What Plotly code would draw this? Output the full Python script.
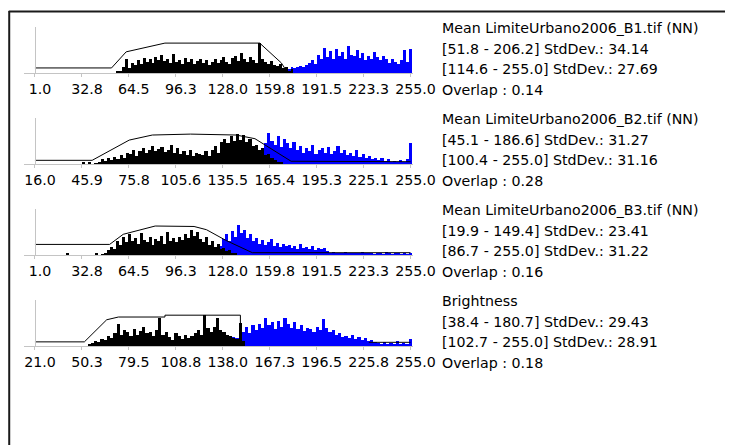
import plotly.graph_objects as go

# ---------------- data ----------------
titles = ["Mean LimiteUrbano2006_B1.tif (NN)", "Mean LimiteUrbano2006_B2.tif (NN)",
          "Mean LimiteUrbano2006_B3.tif (NN)", "Brightness"]
range1_text = ["[51.8 - 206.2] StdDev.: 34.14", "[45.1 - 186.6] StdDev.: 31.27",
               "[19.9 - 149.4] StdDev.: 23.41", "[38.4 - 180.7] StdDev.: 29.43"]
range2_text = ["[114.6 - 255.0] StdDev.: 27.69", "[100.4 - 255.0] StdDev.: 31.16",
               "[86.7 - 255.0] StdDev.: 31.22", "[102.7 - 255.0] StdDev.: 28.91"]
overlap_text = ["Overlap : 0.14", "Overlap : 0.28", "Overlap : 0.16", "Overlap : 0.18"]

ticks1 = ["1.0", "32.8", "64.5", "96.3", "128.0", "159.8", "191.5", "223.3", "255.0"]
ticks2 = ["16.0", "45.9", "75.8", "105.6", "135.5", "165.4", "195.3", "225.1", "255.0"]
ticks3 = ["1.0", "32.8", "64.5", "96.3", "128.0", "159.8", "191.5", "223.3", "255.0"]
ticks4 = ["21.0", "50.3", "79.5", "108.8", "138.0", "167.3", "196.5", "225.8", "255.0"]

bin_width = 2

# panel 1 histograms (relative heights)
black1_start = 56
black1 = [0.03,0.05,0.12,0.30,0.10,0.22,0.18,0.28,0.20,0.32,0.25,0.30,0.22,0.35,0.28,0.40,
          0.26,0.30,0.22,0.42,0.25,0.28,0.20,0.32,0.24,0.30,0.20,0.26,0.30,0.22,0.28,0.18,
          0.25,0.30,0.22,0.28,0.35,0.25,0.20,0.32,0.38,0.26,0.44,0.30,0.25,0.35,0.28,0.22,
          0.65,0.30,0.25,0.20,0.26,0.18,0.15,0.20,0.10,0.12,0.05,0.08]
blue1_start = 110
blue1 = [0.02,0.03,0.02,0.04,0.03,0.05,0.03,0.04,0.05,0.03,0.06,0.04,0.05,0.04,0.06,0.05,
         0.04,0.06,0.05,0.07,0.06,0.05,0.08,0.06,0.07,0.09,0.07,0.08,
         0.10,0.08,0.12,0.09,0.14,0.10,0.12,0.16,0.12,0.18,0.22,
         0.28,0.20,0.40,0.30,0.55,0.35,0.48,0.30,0.52,0.38,
         0.45,0.30,0.58,0.40,0.36,0.50,0.32,0.44,0.28,0.38,0.30,0.46,0.34,0.28,0.36,0.30,
         0.22,0.30,0.24,0.20,0.28,0.50,0.25,0.52]
curve1_x = [1, 52.8, 62.7, 88.9, 153, 167.6, 170]
curve1_y = [0.11, 0.11, 0.46, 0.65, 0.65, 0.22, 0.10]

# panel 2
black2_start = 46
black2 = [0.03,0.0,0.03,0.0,0.02,
          0.05,0.10,0.06,0.12,0.08,0.15,0.10,0.20,0.12,0.25,
          0.22,0.30,0.18,0.28,0.35,0.25,0.30,0.40,0.28,0.32,0.38,0.26,
          0.30,0.42,0.25,0.35,0.22,0.28,0.20,0.30,0.18,0.25,
          0.22,0.20,0.28,0.18,0.30,0.40,0.25,0.48,
          0.55,0.45,0.60,0.50,0.65,0.52,0.62,0.48,0.55,0.40,
          0.42,0.30,0.35,0.20,0.22,0.12,0.08,0.05,0.03]
blue2_start = 150
blue2 = [0.05,0.10,0.08,0.15,0.20,0.30,0.45,0.68,
         0.50,0.42,0.60,0.38,0.55,0.45,0.35,0.48,
         0.30,0.40,0.25,0.35,0.28,0.42,0.22,0.30,0.35,0.25,0.38,0.22,0.28,0.40,0.24,0.30,0.20,
         0.25,0.18,0.30,0.15,0.22,0.12,0.18,0.10,0.14,0.08,0.12,0.06,0.10,
         0.05,0.06,0.04,0.08,0.05,0.10,0.45]
curve2_x = [16, 52.4, 76, 90.7, 115, 144, 156, 179, 255]
curve2_y = [0.08, 0.08, 0.52, 0.63, 0.65, 0.63, 0.55, 0.06, 0.05]

# panel 3
black3_start = 20
black3 = [0,0.04,0,0,0,0,0,0,0,0,0,0.03,0,
          0.02,0.05,0.10,0.18,0.12,0.30,0.22,
          0.40,0.28,0.45,0.30,0.38,0.25,0.48,0.32,0.28,0.40,0.22,
          0.35,0.30,0.42,0.25,0.50,0.30,0.36,0.28,0.40,0.32,
          0.45,0.38,0.55,0.42,0.50,0.35,0.28,0.40,0.22,0.30,
          0.18,0.25,0.12,0.15,0.08,0.10,0.05,0.03]
blue3_start = 110
blue3 = [0.02,0.03,0.04,0.05,0.06,0.08,0.10,0.14,0.20,
         0.35,0.45,0.30,0.52,0.40,0.65,0.48,0.55,0.38,0.45,
         0.30,0.36,0.25,0.32,0.22,0.28,0.35,0.20,0.26,0.18,0.24,0.20,
         0.22,0.16,0.20,0.14,0.25,0.15,0.18,0.12,0.20,0.10,0.16,0.12,0.15,
         0.08,0.05,0.06,0.04,0.05,0.03,0.06,0.04,0.03,0.05,0.03,0.04,0.06,0.03,0.04,
         0.03,0.02,0.04,0.03,0.02,0.06,0.03,0.02,0.03,0.04,0.02,0.03,0.02,0.04]
curve3_x = [1, 51.5, 60.7, 82.3, 108.6, 117, 130, 148, 255]
curve3_y = [0.23, 0.23, 0.45, 0.63, 0.62, 0.55, 0.32, 0.05, 0.05]

# panel 4
black4_start = 54
black4 = [0.03,0.06,0.10,0.08,0.15,0.12,
          0.22,0.18,0.28,0.48,0.25,0.35,0.30,0.22,
          0.38,0.25,0.32,0.42,0.28,0.30,0.22,0.35,0.60,
          0.25,0.30,0.20,0.12,0.28,0.22,0.15,0.25,0.18,0.22,
          0.28,0.35,0.25,0.67,0.40,0.30,0.42,0.60,0.35,
          0.30,0.25,0.22,0.18,0.15,0.50,0.10]
blue4_start = 112
blue4 = [0.02,0.03,0.02,0.04,0.05,0.04,0.06,0.05,0.08,0.06,0.10,0.08,0.12,0.10,0.15,0.12,0.20,0.18,0.25,
         0.30,0.42,0.28,0.45,0.35,0.48,0.40,0.60,0.45,0.52,0.38,
         0.55,0.42,0.60,0.48,0.40,0.52,0.36,0.45,0.32,0.40,
         0.38,0.30,0.42,0.35,0.58,0.40,0.30,0.35,0.25,0.28,0.20,
         0.22,0.18,0.25,0.15,0.20,0.12,0.18,0.10,0.14,0.08,
         0.06,0.05,0.08,0.04,0.07,0.05,0.10,0.04,0.06,0.05,0.15]
curve4_x = [21, 51.8, 65.7, 73, 102, 102, 149, 149, None, 229, 255]
curve4_y = [0.09, 0.09, 0.57, 0.63, 0.63, 0.67, 0.67, 0.35, None, 0.08, 0.08]

# ---------------- layout geometry ----------------
W, H = 747, 445
AX_LEFT, AX_RIGHT = 25, 426
FIRST_TICK, LAST_TICK = 36, 423
BASE0, STEP, AXH = 73, 91, 46
TEXT_X = 453
TEXT_Y0, LINE_STEP = 28, 20.7
FONT = "DejaVu Sans"
FS = 14.2
GRAY = "#c4c4c4"

panels = [
    (ticks1, black1_start, black1, blue1_start, blue1, curve1_x, curve1_y),
    (ticks2, black2_start, black2, blue2_start, blue2, curve2_x, curve2_y),
    (ticks3, black3_start, black3, blue3_start, blue3, curve3_x, curve3_y),
    (ticks4, black4_start, black4, blue4_start, blue4, curve4_x, curve4_y),
]

fig = go.Figure()
annotations = []
layout_axes = {}

for k, (tk, bst, bvals, ust, uvals, cx, cy) in enumerate(panels):
    xa = "x" if k == 0 else f"x{k+1}"
    ya = "y" if k == 0 else f"y{k+1}"
    tvals = [float(t) for t in tk]
    a, b = tvals[0], tvals[-1]
    upp = (b - a) / (LAST_TICK - FIRST_TICK)
    rng = [a - (FIRST_TICK - AX_LEFT) * upp, b + (AX_RIGHT - LAST_TICK) * upp]

    ux = [ust + bin_width * i + bin_width / 2 for i in range(len(uvals))]
    bx = [bst + bin_width * i + bin_width / 2 for i in range(len(bvals))]
    fig.add_trace(go.Bar(x=ux, y=uvals, width=bin_width, marker=dict(color="#0000ff", line=dict(width=0)),
                         xaxis=xa, yaxis=ya, showlegend=False, hoverinfo="skip"))
    fig.add_trace(go.Bar(x=bx, y=bvals, width=bin_width, marker=dict(color="#000000", line=dict(width=0)),
                         xaxis=xa, yaxis=ya, showlegend=False, hoverinfo="skip"))
    fig.add_trace(go.Scatter(x=cx, y=cy, mode="lines", line=dict(color="#000000", width=1),
                             xaxis=xa, yaxis=ya, showlegend=False, hoverinfo="skip", connectgaps=False))

    base = BASE0 + STEP * k
    xkey = "xaxis" if k == 0 else f"xaxis{k+1}"
    ykey = "yaxis" if k == 0 else f"yaxis{k+1}"
    layout_axes[xkey] = dict(domain=[AX_LEFT / W, AX_RIGHT / W], range=rng, anchor=ya,
                             showline=True, linecolor=GRAY, linewidth=1, ticks="outside", ticklen=3,
                             tickcolor=GRAY, tickvals=tvals, ticktext=tk, showgrid=False, zeroline=False,
                             ticklabelshift=5,
                             tickfont=dict(family=FONT, size=FS, color="#000"), fixedrange=True)
    layout_axes[ykey] = dict(domain=[1 - base / H, 1 - (base - AXH) / H], range=[0, 1], anchor="free",
                             position=FIRST_TICK / W, showline=True, linecolor=GRAY, linewidth=1,
                             showticklabels=False, ticks="", showgrid=False, zeroline=False, fixedrange=True)

    lines = [titles[k], range1_text[k], range2_text[k], overlap_text[k]]
    for j, t in enumerate(lines):
        yc = TEXT_Y0 + STEP * k + LINE_STEP * j
        annotations.append(dict(text=t, x=TEXT_X / W, y=1 - yc / H, xref="paper", yref="paper",
                                xanchor="left", yanchor="middle", showarrow=False,
                                font=dict(family=FONT, size=FS, color="#000")))

shapes = [
    dict(type="line", xref="paper", yref="paper", x0=9.5 / W, x1=9.5 / W, y0=0, y1=1 - 11 / H,
         line=dict(color="#1a1a1a", width=2)),
    dict(type="line", xref="paper", yref="paper", x0=9 / W, x1=1, y0=1 - 11.5 / H, y1=1 - 11.5 / H,
         line=dict(color="#1a1a1a", width=2)),
]

fig.update_layout(width=W, height=H, margin=dict(l=0, r=0, t=0, b=0), paper_bgcolor="white",
                  plot_bgcolor="rgba(0,0,0,0)", barmode="overlay", bargap=0, annotations=annotations,
                  shapes=shapes, **layout_axes)

fig.write_html("out.html", config={"displayModeBar": False},
               post_script="document.body.style.margin='0';document.body.style.overflow='hidden';")
